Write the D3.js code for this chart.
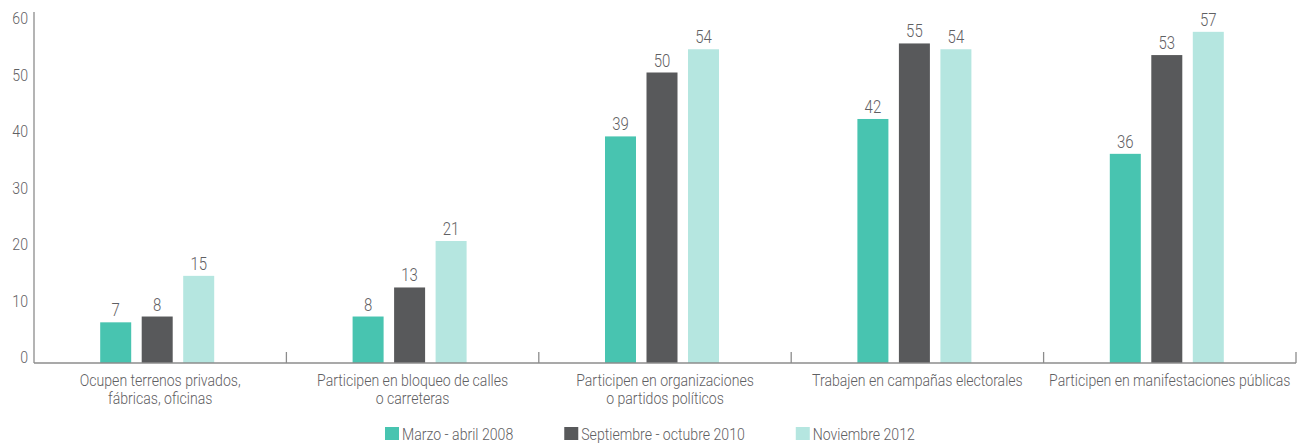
<!DOCTYPE html>
<html>
<head>
<meta charset="utf-8">
<script src="https://cdn.jsdelivr.net/npm/d3@7"></script>
<style>
  body { margin: 0; background: #fff; }
  text { font-family: Roboto, "Liberation Sans", sans-serif; font-weight: 300; fill: #5f6063; }
</style>
</head>
<body>
<script>
// categories (two-line labels) and the three survey waves
const categories = [
  ["Ocupen terrenos privados,", "fábricas, oficinas"],
  ["Participen en bloqueo de calles", "o carreteras"],
  ["Participen en organizaciones", "o partidos políticos"],
  ["Trabajen en campañas electorales"],
  ["Participen en manifestaciones públicas"]
];
const series = ["Marzo - abril 2008", "Septiembre - octubre 2010", "Noviembre 2012"];
const values2008 = [7, 8, 39, 42, 36];
const values2010 = [8, 13, 50, 55, 53];
const values2012 = [15, 21, 54, 54, 57];
const yTickValues = [0, 10, 20, 30, 40, 50, 60];

const colors = ["#48c4b0", "#58595b", "#b5e6e0"];

const width = 1297, height = 443;
const left = 34, right = 1296, baseline = 363;
const sx = 0.83; // the original face is a condensed one

const svg = d3.select("body").append("svg")
    .attr("width", width)
    .attr("height", height);

const keys = categories.map(c => c.join(" "));
const data = keys.map((k, i) => ({
  key: k,
  lines: categories[i],
  vals: [values2008[i], values2010[i], values2012[i]]
}));

const x = d3.scaleBand()
    .domain(keys)
    .range([left, right]);

const x1 = d3.scaleBand()
    .domain(series)
    .range([0, 114])
    .paddingInner(0.253);

const y = d3.scaleLinear()
    .domain([0, 60])
    .range([baseline, 14.4]);

// tick labels sit on a slightly tighter ladder than the bars
const yLabel = d3.scaleLinear()
    .domain([0, 60])
    .range([baseline, 24]);

const color = d3.scaleOrdinal().domain(series).range(colors);

const squeeze = (px, py, s = sx) => `translate(${px},${py}) scale(${s},1)`;

// y axis: just a line and labels
svg.append("line")
    .attr("x1", left).attr("x2", left)
    .attr("y1", 12).attr("y2", baseline)
    .attr("stroke", "#8c8c8c")
    .attr("stroke-width", 1.3);

svg.append("g")
  .selectAll("text")
  .data(yTickValues)
  .join("text")
    .attr("transform", d => squeeze(28, yLabel(d)))
    .attr("text-anchor", "end")
    .attr("font-size", "17px")
    .text(d => d);

// bars
const groups = svg.append("g")
  .selectAll("g")
  .data(data)
  .join("g")
    .attr("transform", d => `translate(${x(d.key) + x.bandwidth() / 2 - 57 - 3},0)`);

groups.selectAll("rect")
  .data(d => d.vals.map((v, j) => ({s: series[j], v})))
  .join("rect")
    .attr("x", d => x1(d.s))
    .attr("width", x1.bandwidth())
    .attr("y", d => y(d.v))
    .attr("height", d => baseline - y(d.v))
    .attr("fill", d => color(d.s));

groups.selectAll("text.val")
  .data(d => d.vals.map((v, j) => ({s: series[j], v})))
  .join("text")
    .attr("class", "val")
    .attr("transform", d => squeeze(x1(d.s) + x1.bandwidth() / 2, y(d.v) - 6))
    .attr("text-anchor", "middle")
    .attr("font-size", "18px")
    .text(d => d.v);

// x axis line with ticks at band edges
svg.append("line")
    .attr("x1", left).attr("x2", right)
    .attr("y1", baseline).attr("y2", baseline)
    .attr("stroke", "#8c8c8c")
    .attr("stroke-width", 1.5);

svg.append("g")
  .selectAll("line")
  .data(keys)
  .join("line")
    .attr("x1", d => x(d) + x.bandwidth())
    .attr("x2", d => x(d) + x.bandwidth())
    .attr("y1", baseline - 11)
    .attr("y2", baseline)
    .attr("stroke", "#8c8c8c")
    .attr("stroke-width", 1.3);

// category labels, one text per line
svg.append("g")
  .selectAll("text")
  .data(data.flatMap(d => d.lines.map((l, i) => ({key: d.key, l, i}))))
  .join("text")
    .attr("transform", d => squeeze(x(d.key) + x.bandwidth() / 2, baseline + 23 + d.i * 18, 0.88))
    .attr("text-anchor", "middle")
    .attr("font-size", "16px")
    .text(d => d.l);

// legend
const legend = svg.append("g").attr("transform", "translate(385,0)");
let lx = 0;
series.forEach((s, i) => {
  const g = legend.append("g").attr("transform", `translate(${lx},0)`);
  g.append("rect")
      .attr("x", 0).attr("y", 427)
      .attr("width", 14).attr("height", 13)
      .attr("fill", colors[i]);
  const t = g.append("text")
      .attr("transform", squeeze(17, 440))
      .attr("font-size", "17px")
      .text(s);
  lx += 17 + t.node().getComputedTextLength() * sx + 51;
});
</script>
</body>
</html>
